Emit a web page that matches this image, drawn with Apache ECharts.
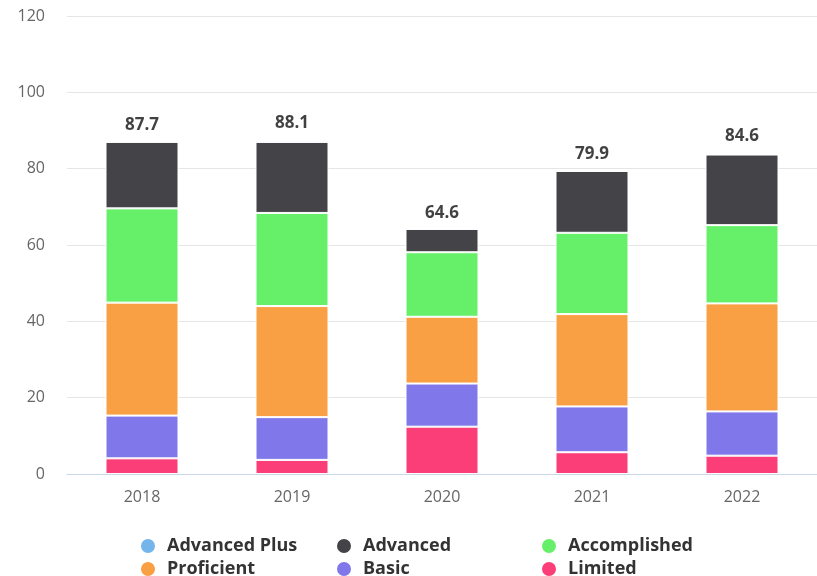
<!DOCTYPE html>
<html>
<head>
<meta charset="utf-8">
<script src="https://cdn.jsdelivr.net/npm/echarts@6/dist/echarts.min.js"></script>
<style>html,body{margin:0;padding:0;background:#fff;}#c{width:817px;height:576px;}</style>
</head>
<body>
<div id="c"></div>
<script>
var categories = ['2018', '2019', '2020', '2021', '2022'];
var advancedPlus = [null, 0.5, null, null, null];
var advanced = [17.4, 18.6, 6.1, 16.2, 18.5];
var accomplished = [24.7, 24.4, 16.9, 21.3, 20.5];
var proficient = [29.6, 29.1, 17.5, 24.2, 28.3];
var basic = [11.2, 11.2, 11.3, 12.0, 11.6];
var limited = [4.1, 3.7, 12.4, 5.7, 4.8];
var totals = [87.7, 88.1, 64.6, 79.9, 84.6];
var yTicks = [0, 20, 40, 60, 80, 100, 120];

var colors = {
  'Advanced Plus': '#74b6ec',
  'Advanced': '#434348',
  'Accomplished': '#66f06a',
  'Proficient': '#f9a045',
  'Basic': '#8078ea',
  'Limited': '#fb3e78'
};

function barSeries(name, data) {
  return {
    name: name, type: 'bar', stack: 'total', data: data,
    barWidth: 73,
    itemStyle: { color: colors[name], borderColor: '#fff', borderWidth: 1 },
    emphasis: { disabled: true }
  };
}

var legendText = { fontFamily: 'Open Sans', fontSize: 18, fontWeight: 'bold', color: '#333', lineHeight: 18, padding: [0, 0, 0, 6] };
function legend(left, names) {
  return {
    left: left, top: 537, height: 60, orient: 'vertical', itemGap: 5, padding: 0,
    icon: 'circle', itemWidth: 16, itemHeight: 16,
    textStyle: legendText, data: names, selectedMode: false
  };
}

var chart = echarts.init(document.getElementById('c'));
chart.setOption({
  animation: false,
  color: Object.keys(colors).map(function (k) { return colors[k]; }),
  grid: { left: 67, right: -7, top: 16, bottom: 102 },
  legend: [
    legend(139, ['Advanced Plus', 'Proficient']),
    legend(335, ['Advanced', 'Basic']),
    legend(540, ['Accomplished', 'Limited'])
  ],
  xAxis: {
    type: 'category', data: categories,
    axisLine: { lineStyle: { color: '#ccd6eb' } },
    axisTick: { show: false },
    axisLabel: { color: '#666', fontSize: 16, fontFamily: 'Open Sans', margin: 15 }
  },
  yAxis: {
    type: 'value', min: yTicks[0], max: yTicks[yTicks.length - 1], interval: 20,
    axisLine: { show: false }, axisTick: { show: false },
    splitLine: { lineStyle: { color: '#e6e6e6' } },
    axisLabel: { color: '#666', fontSize: 16, fontFamily: 'Open Sans', margin: 22 }
  },
  series: [
    barSeries('Limited', limited),
    barSeries('Basic', basic),
    barSeries('Proficient', proficient),
    barSeries('Accomplished', accomplished),
    barSeries('Advanced', advanced),
    barSeries('Advanced Plus', advancedPlus),
    {
      name: 'Total', type: 'scatter', data: totals, symbolSize: 0,
      silent: true,
      label: {
        show: true, position: 'top', distance: 6,
        color: '#111', fontSize: 17, fontWeight: 'bold', fontFamily: 'Open Sans',
        formatter: function (p) { return p.value.toFixed(1); }
      }
    }
  ]
});
</script>
</body>
</html>
